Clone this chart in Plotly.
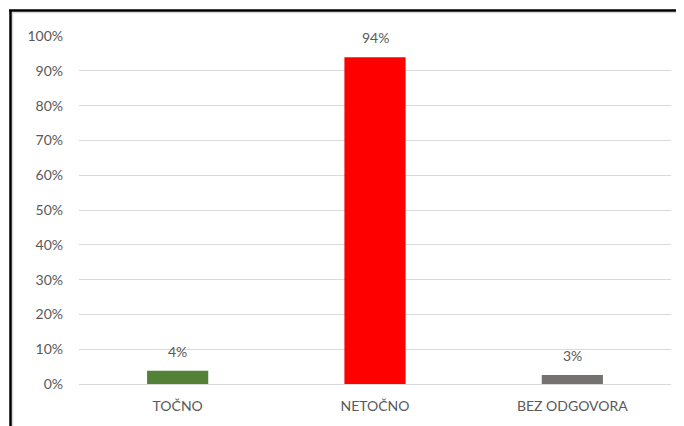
import plotly.graph_objects as go

categories = ["TOČNO", "NETOČNO", "BEZ ODGOVORA"]
values = [0.038, 0.939, 0.026]
colors = ["#538135", "#FF0000", "#767171"]
labels = ["4%", "94%", "3%"]

# page body has an 8px margin; figure fills the rest of the 684x426 window
OFF = 8
W, H = 684 - OFF, 426 - OFF
L, R, T, B = 79 - OFF, 13, 36 - OFF, 42
pw, ph = W - L - R, H - T - B

def px(x):
    return (x - OFF - L) / pw

def py(y):
    return (H - B - (y - OFF)) / ph

fig = go.Figure()
fig.add_trace(go.Bar(
    x=categories, y=values, marker_color=colors, marker_line_width=0,
    hoverinfo="skip",
))

for c, v, t in zip(categories, values, labels):
    fig.add_annotation(x=c, y=v, text=t, showarrow=False, yanchor="bottom",
                       yshift=9, font=dict(size=14, color="#595959"))

font = "Lato, 'Noto Sans', sans-serif"
shapes = [
    dict(type="line", xref="paper", yref="paper", x0=px(10), x1=px(690), y0=py(12.5), y1=py(12.5),
         line=dict(color="#D9D9D9", width=1.5)),
    dict(type="line", xref="paper", yref="paper", x0=px(12.5), x1=px(12.5), y0=py(12), y1=py(430),
         line=dict(color="#D9D9D9", width=1.5)),
    dict(type="line", xref="paper", yref="paper", x0=px(9), x1=px(690), y0=py(10.5), y1=py(10.5),
         line=dict(color="black", width=2.5)),
    dict(type="line", xref="paper", yref="paper", x0=px(10.5), x1=px(10.5), y0=py(10), y1=py(430),
         line=dict(color="black", width=2.5)),
]

fig.update_layout(
    width=W, height=H,
    margin=dict(l=L, r=R, t=T, b=B),
    paper_bgcolor="white", plot_bgcolor="white",
    font=dict(family=font, size=14, color="#595959"),
    bargap=0.69,
    showlegend=False,
    shapes=shapes,
    xaxis=dict(showline=False, ticks="", showgrid=False, ticklabelstandoff=12,
               tickfont=dict(size=14, color="#595959")),
    yaxis=dict(range=[0, 1], dtick=0.1, tickformat=".0%", showgrid=True,
               gridcolor="#D9D9D9", gridwidth=1, zeroline=True, zerolinecolor="#D9D9D9",
               zerolinewidth=1, showline=False, ticks="", ticklabelstandoff=15,
               tickfont=dict(size=14, color="#595959")),
)

fig.write_html("out.html")
